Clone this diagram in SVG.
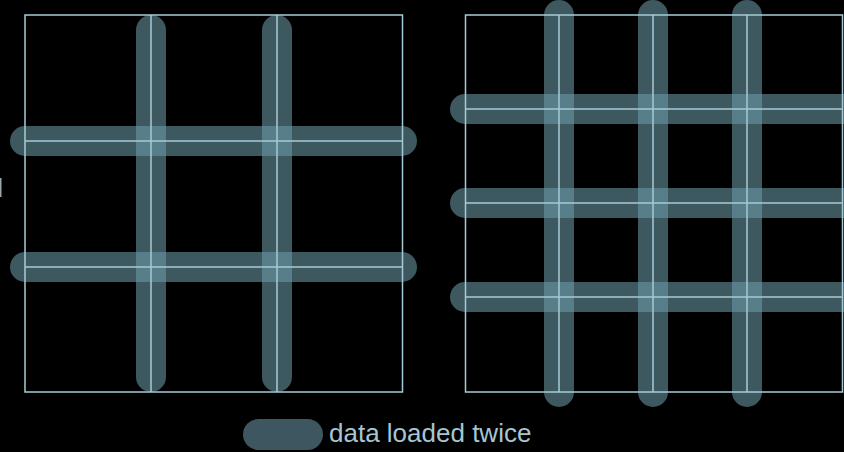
<svg xmlns="http://www.w3.org/2000/svg" width="844" height="452" viewBox="0 0 844 452">
<style>
.bar{stroke:#6d9aa8;stroke-opacity:0.57;stroke-width:30;stroke-linecap:round;fill:none}
.grid{stroke:#a6cbd8;stroke-width:1.5;fill:none}
.lbl{font-family:"Liberation Sans",Arial,sans-serif;font-size:26px;fill:#a6c6d2}
</style>
<rect width="844" height="452" fill="#000"/>
<rect x="0" y="178" width="1.5" height="19" fill="#9aa6aa"/>
<g id="left-bars">
  <line class="bar" x1="151" y1="30" x2="151" y2="377"/>
  <line class="bar" x1="277" y1="30" x2="277" y2="377"/>
  <line class="bar" x1="25" y1="141" x2="402" y2="141"/>
  <line class="bar" x1="25" y1="267" x2="402" y2="267"/>
</g>
<g id="left-grid">
  <rect class="grid" x="25" y="15" width="377.5" height="377"/>
  <line class="grid" x1="151" y1="15" x2="151" y2="392"/>
  <line class="grid" x1="277" y1="15" x2="277" y2="392"/>
  <line class="grid" x1="25" y1="141" x2="402.5" y2="141"/>
  <line class="grid" x1="25" y1="267" x2="402.5" y2="267"/>
</g>
<g id="right-bars">
  <line class="bar" x1="559" y1="15" x2="559" y2="392"/>
  <line class="bar" x1="653" y1="15" x2="653" y2="392"/>
  <line class="bar" x1="747" y1="15" x2="747" y2="392"/>
  <line class="bar" x1="465" y1="109" x2="860" y2="109"/>
  <line class="bar" x1="465" y1="203" x2="860" y2="203"/>
  <line class="bar" x1="465" y1="297" x2="860" y2="297"/>
</g>
<g id="right-grid">
  <rect class="grid" x="465.5" y="15" width="377" height="377"/>
  <line class="grid" x1="559" y1="15" x2="559" y2="392"/>
  <line class="grid" x1="653" y1="15" x2="653" y2="392"/>
  <line class="grid" x1="747" y1="15" x2="747" y2="392"/>
  <line class="grid" x1="465.5" y1="109" x2="842.5" y2="109"/>
  <line class="grid" x1="465.5" y1="203" x2="842.5" y2="203"/>
  <line class="grid" x1="465.5" y1="297" x2="842.5" y2="297"/>
</g>
<g id="legend">
  <rect x="243" y="419" width="80" height="31" rx="15.5" fill="#3d565f"/>
  <text class="lbl" x="329" y="442">data loaded twice</text>
</g>
</svg>
